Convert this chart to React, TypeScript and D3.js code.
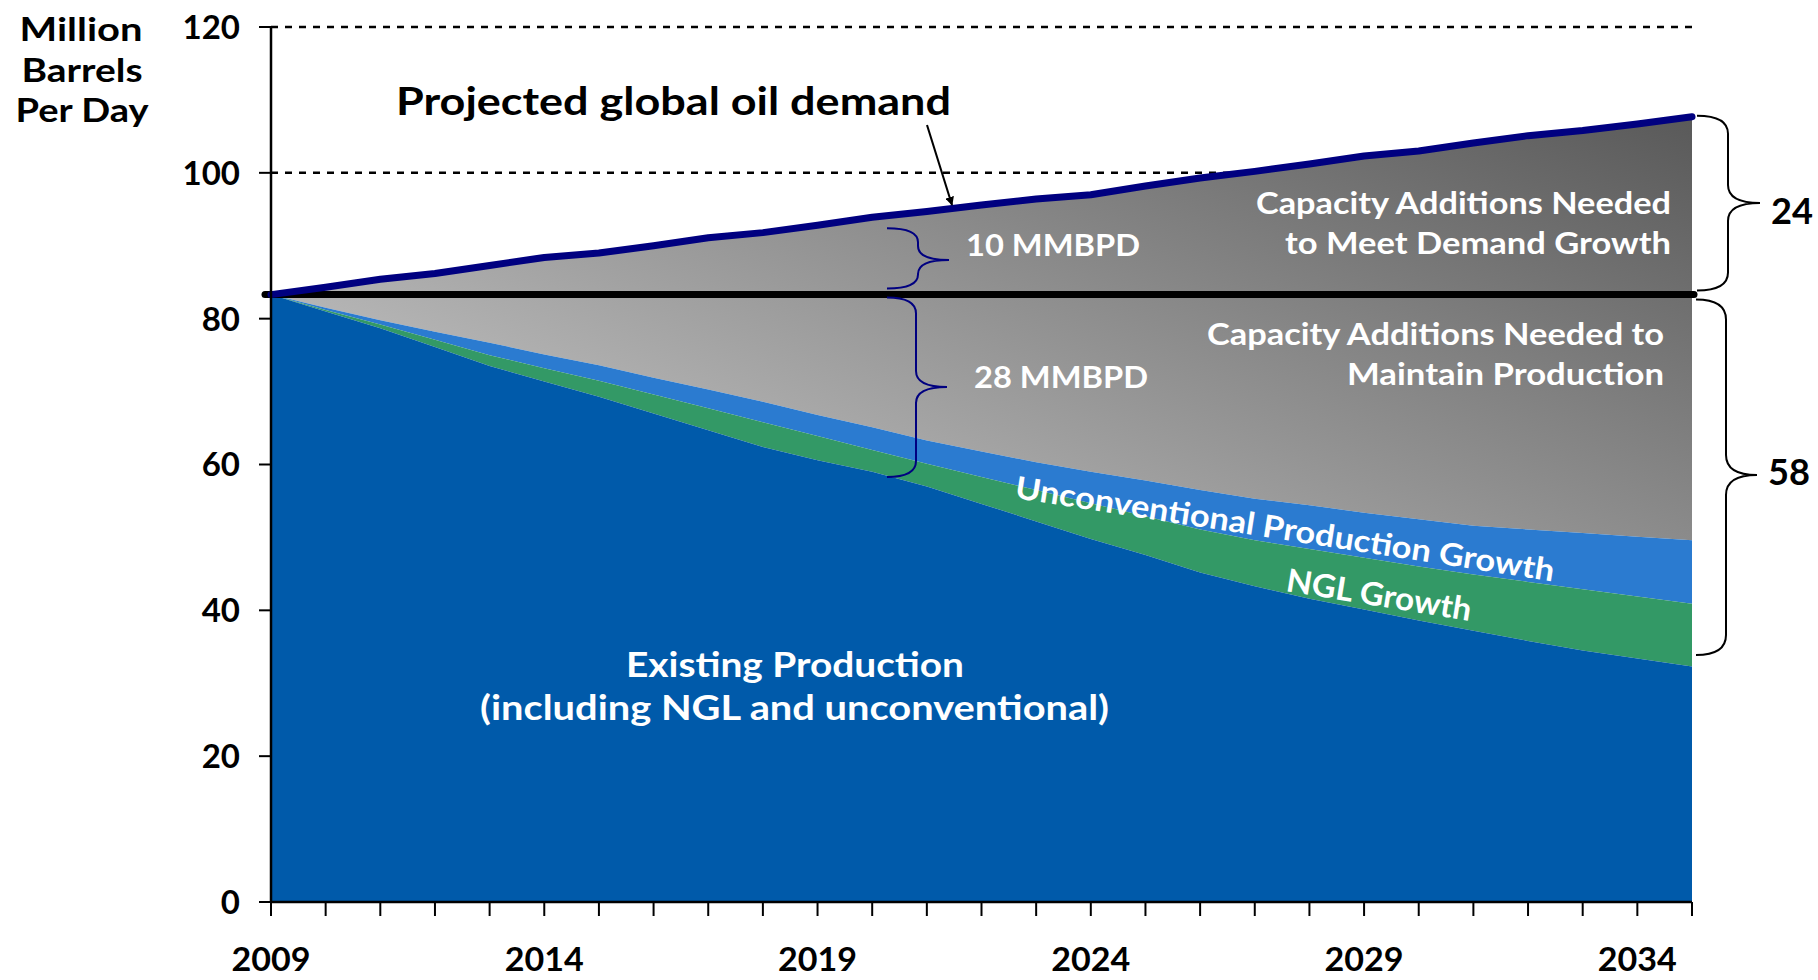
import React from "react";
import * as d3 from "d3";

const years = d3.range(2009, 2036);
const demand = [83.3, 84.3, 85.4, 86.2, 87.3, 88.4, 89.0, 90.0, 91.1, 91.8, 92.8, 93.9, 94.7, 95.6, 96.4, 97.0, 98.2, 99.3, 100.2, 101.2, 102.3, 103.0, 104.1, 105.1, 105.8, 106.7, 107.7];
const existing = [83.3, 81.0, 78.7, 76.1, 73.5, 71.4, 69.3, 67.0, 64.7, 62.4, 60.6, 59.0, 57.0, 54.6, 52.2, 49.8, 47.6, 45.2, 43.3, 41.6, 40.1, 38.6, 37.2, 35.8, 34.5, 33.4, 32.3];
const nglTop = [83.3, 81.2, 79.2, 77.1, 75.0, 73.2, 71.5, 69.6, 67.7, 65.8, 63.9, 62.0, 60.1, 58.3, 56.5, 54.7, 52.9, 51.1, 49.6, 48.4, 47.2, 46.0, 44.9, 43.9, 42.9, 41.9, 40.9];
const unconvTop = [83.3, 81.5, 79.8, 78.2, 76.7, 75.1, 73.6, 71.9, 70.3, 68.6, 66.8, 65.1, 63.3, 61.8, 60.3, 59.0, 57.8, 56.5, 55.3, 54.4, 53.4, 52.5, 51.6, 51.1, 50.6, 50.1, 49.6];
const baseProduction = 83.3;
const yTicks = [0, 20, 40, 60, 80, 100, 120];
const gridTicks = [100, 120];
const xLabelYears = [2009, 2014, 2019, 2024, 2029, 2034];

const FONT = "Lato, 'Open Sans', sans-serif";

type Row = { year: number; demand: number; existing: number; ngl: number; unconv: number };
const rows: Row[] = years.map((yr, i) => ({
  year: yr,
  demand: demand[i],
  existing: existing[i],
  ngl: nglTop[i],
  unconv: unconvTop[i],
}));

function brace(x0: number, xs: number, xt: number, yTop: number, yBot: number, yMid: number, r: number) {
  const p = d3.path();
  p.moveTo(x0, yTop);
  p.quadraticCurveTo(xs, yTop, xs, yTop + r);
  p.lineTo(xs, yMid - r);
  p.quadraticCurveTo(xs, yMid, xt, yMid);
  p.quadraticCurveTo(xs, yMid, xs, yMid + r);
  p.lineTo(xs, yBot - r);
  p.quadraticCurveTo(xs, yBot, x0, yBot);
  return p.toString();
}

export default function App() {
  const x = d3.scaleLinear().domain([2009, 2035]).range([271, 1692]);
  const y = d3.scaleLinear().domain([0, 120]).range([902, 27]);

  const areaExisting = d3.area<Row>().x((d) => x(d.year)).y0(y(0)).y1((d) => y(d.existing));
  const areaNgl = d3.area<Row>().x((d) => x(d.year)).y0((d) => y(d.existing)).y1((d) => y(d.ngl));
  const areaUnconv = d3.area<Row>().x((d) => x(d.year)).y0((d) => y(d.ngl)).y1((d) => y(d.unconv));
  const areaGap = d3.area<Row>().x((d) => x(d.year)).y0((d) => y(d.unconv)).y1((d) => y(d.demand));
  const lineDemand = d3.line<Row>().x((d) => x(d.year)).y((d) => y(d.demand));

  const yBase = y(baseProduction);
  const i2020 = years.indexOf(2020);

  return (
    <svg width={1818} height={980} style={{ position: "absolute", left: 0, top: 0, background: "#fff" }} fontFamily={FONT}>
      <defs>
        <linearGradient id="grayGrad" gradientUnits="userSpaceOnUse" x1={300} y1={300} x2={594} y2={-389}>
          <stop offset="0" stopColor="#b4b4b4" />
          <stop offset="1" stopColor="#555555" />
        </linearGradient>
        <marker id="arrow" viewBox="0 0 10 10" refX="9" refY="5" markerWidth="9" markerHeight="9" orient="auto" markerUnits="userSpaceOnUse">
          <path d="M0,0 L10,5 L0,10 z" fill="#000" />
        </marker>
      </defs>

      {/* grid */}
      {gridTicks.map((t) => (
        <line key={t} x1={x(2009)} x2={x(2035)} y1={y(t)} y2={y(t)} stroke="#000" strokeWidth={2.5} strokeDasharray="7 7" />
      ))}

      {/* areas */}
      <path d={areaGap(rows) || ""} fill="url(#grayGrad)" />
      <path d={areaUnconv(rows) || ""} fill="#2b7bd0" />
      <path d={areaNgl(rows) || ""} fill="#339966" />
      <path d={areaExisting(rows) || ""} fill="#005aaa" />

      {/* production line */}
      <line x1={x(2009) - 6} x2={x(2035) + 2} y1={yBase} y2={yBase} stroke="#000" strokeWidth={7} strokeLinecap="round" />
      {/* demand line */}
      <path d={lineDemand(rows) || ""} fill="none" stroke="#000080" strokeWidth={7} strokeLinecap="round" strokeLinejoin="round" />

      {/* axes */}
      <line x1={x(2009)} x2={x(2009)} y1={y(120)} y2={y(0)} stroke="#000" strokeWidth={2.5} />
      <line x1={x(2009)} x2={x(2035)} y1={y(0)} y2={y(0)} stroke="#000" strokeWidth={2.5} />
      {yTicks.map((t) => (
        <g key={t}>
          <line x1={x(2009) - 12} x2={x(2009)} y1={y(t)} y2={y(t)} stroke="#000" strokeWidth={2} />
          <text x={240} y={y(t)} dy="0.36em" textAnchor="end" fontSize={33} fontWeight={700} fill="#000">
            {t}
          </text>
        </g>
      ))}
      {years.map((yr) => (
        <line key={yr} x1={x(yr)} x2={x(yr)} y1={y(0)} y2={y(0) + 14} stroke="#000" strokeWidth={2} />
      ))}
      {xLabelYears.map((yr) => (
        <text key={yr} x={x(yr)} y={971} textAnchor="middle" fontSize={33} fontWeight={700} fill="#000" textLength={79} lengthAdjust="spacingAndGlyphs">
          {yr}
        </text>
      ))}

      {/* y-axis title */}
      <g fontSize={33} fontWeight={700} fill="#000" textAnchor="middle">
        <text x={81} y={41} textLength={123} lengthAdjust="spacingAndGlyphs">Million</text>
        <text x={82} y={81.5} textLength={121} lengthAdjust="spacingAndGlyphs">Barrels</text>
        <text x={82} y={122} textLength={133} lengthAdjust="spacingAndGlyphs">Per Day</text>
      </g>

      {/* demand label + arrow */}
      <text x={396} y={115} fontSize={39} fontWeight={700} fill="#000" textLength={555} lengthAdjust="spacingAndGlyphs">
        Projected global oil demand
      </text>
      <line x1={927} y1={125} x2={952} y2={205} stroke="#000" strokeWidth={2} markerEnd="url(#arrow)" />

      {/* braces left (navy) */}
      <path d={brace(887, 918, 949, y(92.4), yBase - 6, 260, 14)} fill="none" stroke="#000080" strokeWidth={2} />
      <path d={brace(887, 916, 947, yBase + 3, y(existing[i2020] - 0.7), 387, 16)} fill="none" stroke="#000080" strokeWidth={2} />
      {/* braces right (black) */}
      <path d={brace(1697, 1728, 1760, y(demand[demand.length - 1]) - 1, yBase - 4, 203, 18)} fill="none" stroke="#000" strokeWidth={2} />
      <path d={brace(1696, 1726, 1757, yBase + 5, 655, 475, 20)} fill="none" stroke="#000" strokeWidth={2} />

      <text x={1771} y={224} fontSize={37} fontWeight={700} fill="#000" textLength={42} lengthAdjust="spacingAndGlyphs">24</text>
      <text x={1768} y={484.5} fontSize={37} fontWeight={700} fill="#000" textLength={42} lengthAdjust="spacingAndGlyphs">58</text>

      {/* white labels */}
      <g fill="#fff" fontWeight={700}>
        <text x={966} y={256} fontSize={31} textLength={174} lengthAdjust="spacingAndGlyphs">10 MMBPD</text>
        <text x={974} y={388} fontSize={31} textLength={174} lengthAdjust="spacingAndGlyphs">28 MMBPD</text>
        <text x={1671} y={214} fontSize={30} textAnchor="end" textLength={415} lengthAdjust="spacingAndGlyphs">Capacity Additions Needed</text>
        <text x={1671} y={254} fontSize={30} textAnchor="end" textLength={386} lengthAdjust="spacingAndGlyphs">to Meet Demand Growth</text>
        <text x={1664} y={345} fontSize={30} textAnchor="end" textLength={457} lengthAdjust="spacingAndGlyphs">Capacity Additions Needed to</text>
        <text x={1664} y={385} fontSize={30} textAnchor="end" textLength={317} lengthAdjust="spacingAndGlyphs">Maintain Production</text>
        <text x={795} y={677} fontSize={35} textAnchor="middle" textLength={338} lengthAdjust="spacingAndGlyphs">Existing Production</text>
        <text x={794.5} y={720} fontSize={35} textAnchor="middle" textLength={629} lengthAdjust="spacingAndGlyphs">(including NGL and unconventional)</text>
        <text transform="translate(1014,498) rotate(8.8)" fontSize={31} textLength={545} lengthAdjust="spacingAndGlyphs">
          Unconventional Production Growth
        </text>
        <text transform="translate(1285,591) rotate(9.2)" fontSize={32} textLength={187} lengthAdjust="spacingAndGlyphs">
          NGL Growth
        </text>
      </g>
    </svg>
  );
}
